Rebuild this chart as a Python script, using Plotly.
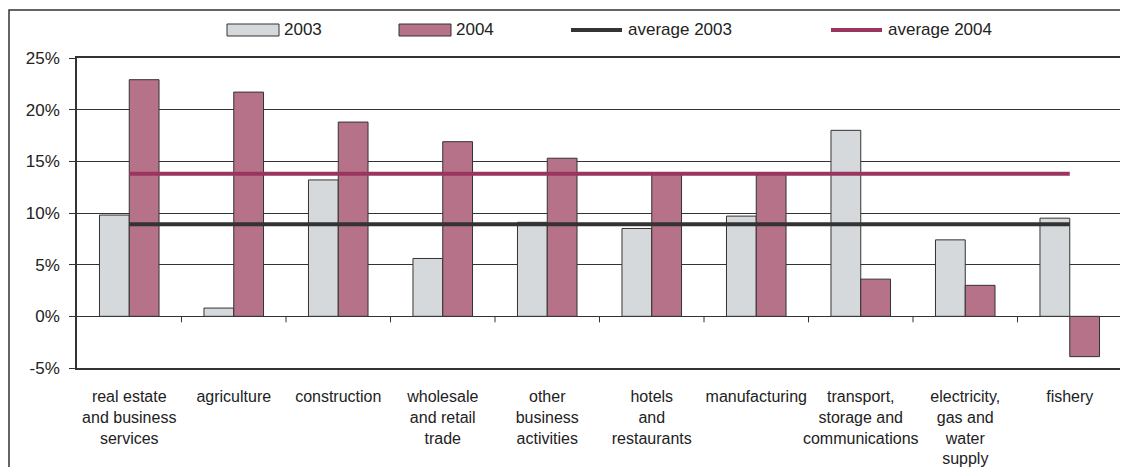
import plotly.graph_objects as go

categories = [
    "real estate<br>and business<br>services",
    "agriculture",
    "construction",
    "wholesale<br>and retail<br>trade",
    "other<br>business<br>activities",
    "hotels<br>and<br>restaurants",
    "manufacturing",
    "transport,<br>storage and<br>communications",
    "electricity,<br>gas and<br>water<br>supply",
    "fishery",
]
growth_2003 = [9.8, 0.8, 13.2, 5.6, 9.1, 8.5, 9.7, 18.0, 7.4, 9.5]
growth_2004 = [22.9, 21.7, 18.8, 16.9, 15.3, 13.9, 13.9, 3.6, 3.0, -3.9]
avg_2003 = 8.9
avg_2004 = 13.8
y_ticks = [-5, 0, 5, 10, 15, 20, 25]

C2003 = "#d5d9dc"
C2004 = "#b67288"
CAVG3 = "#333333"
CAVG4 = "#9a3560"
EDGE = "#333333"
FONT = "Liberation Sans, Arial, sans-serif"

# the page body adds an 8px margin, so the figure is a bit smaller
OFF = 8
W, H = 1128 - OFF, 467 - OFF
ML, MR, MT, MB = 77 - OFF, 6, 58 - OFF, 99
PW, PH = W - ML - MR, H - MT - MB


def px(x):
    return (x - OFF - ML) / PW


def py(y):
    return (H - MB - (y - OFF)) / PH


fig = go.Figure()
fig.add_trace(go.Bar(x=categories, y=growth_2003, name="2003",
                     marker=dict(color=C2003, line=dict(color=EDGE, width=1))))
fig.add_trace(go.Bar(x=categories, y=growth_2004, name="2004",
                     marker=dict(color=C2004, line=dict(color=EDGE, width=1))))
fig.add_trace(go.Scatter(x=categories, y=[avg_2003] * len(categories), mode="lines",
                         name="average 2003", line=dict(color=CAVG3, width=4)))
fig.add_trace(go.Scatter(x=categories, y=[avg_2004] * len(categories), mode="lines",
                         name="average 2004", line=dict(color=CAVG4, width=4)))

# small ticks on the zero line between categories
shapes = []
for i in range(1, len(categories)):
    shapes.append(dict(type="line", xref="x", yref="y", x0=i - 0.5, x1=i - 0.5,
                       ysizemode="pixel", yanchor=0, y0=0, y1=-6,
                       line=dict(color=EDGE, width=1)))

# outer frame
shapes.append(dict(type="rect", xref="paper", yref="paper",
                   x0=px(9), x1=px(1140), y0=py(10), y1=py(490),
                   line=dict(color=EDGE, width=1.5), layer="below"))

# hand-made legend to match the wide swatches
annotations = []
legend_items = [
    ("2003", "box", C2003, 227),
    ("2004", "box", C2004, 399),
    ("average 2003", "line", CAVG3, 571),
    ("average 2004", "line", CAVG4, 831),
]
for label, kind, color, x0 in legend_items:
    if kind == "box":
        shapes.append(dict(type="rect", xref="paper", yref="paper",
                           x0=px(x0), x1=px(x0 + 52), y0=py(36), y1=py(24),
                           fillcolor=color, line=dict(color=EDGE, width=1)))
    else:
        shapes.append(dict(type="line", xref="paper", yref="paper",
                           x0=px(x0), x1=px(x0 + 51), y0=py(30), y1=py(30),
                           line=dict(color=color, width=4)))
    annotations.append(dict(xref="paper", yref="paper", x=px(x0 + 55), y=py(30),
                            text=label, showarrow=False, xanchor="left", yanchor="middle",
                            font=dict(size=17, color="#222222", family=FONT)))

fig.update_layout(
    width=W, height=H,
    margin=dict(l=ML, r=MR, t=MT, b=MB),
    paper_bgcolor="white", plot_bgcolor="white",
    barmode="group", bargap=0.43, bargroupgap=0,
    showlegend=False,
    font=dict(family=FONT, size=17, color="#222222"),
    shapes=shapes, annotations=annotations,
)
fig.update_xaxes(showline=True, linecolor=EDGE, linewidth=1.5, mirror=True,
                 ticks="", showgrid=False, tickangle=0, automargin=False,
                 tickfont=dict(size=16), ticklabelstandoff=13)
fig.update_yaxes(range=[-5, 25], tickvals=y_ticks,
                 ticktext=[f"{v}%" for v in y_ticks], automargin=False,
                 showline=True, linecolor=EDGE, linewidth=1.5, mirror=True,
                 ticks="outside", ticklen=6, tickcolor=EDGE,
                 showgrid=True, gridcolor=EDGE, gridwidth=1,
                 zeroline=True, zerolinecolor=EDGE, zerolinewidth=1,
                 ticklabelstandoff=6)

fig.write_html("out.html")
